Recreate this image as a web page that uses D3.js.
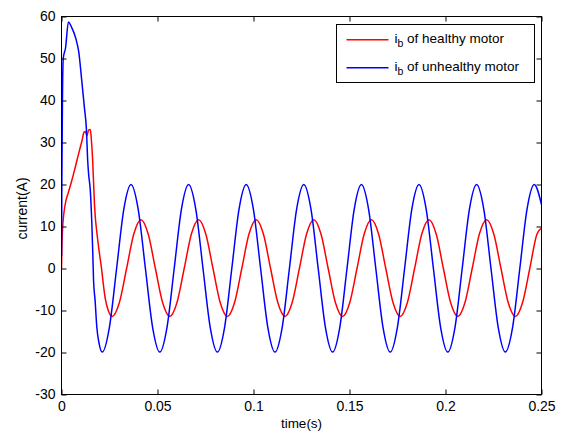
<!DOCTYPE html>
<html>
<head>
<meta charset="utf-8">
<script src="https://cdn.jsdelivr.net/npm/d3@7"></script>
<style>
  body { margin: 0; background: #fff; }
  svg { display: block; font-family: "Liberation Sans", Arial, Helvetica, sans-serif; }
  .tick text { fill: #000; font-size: 14px; }
  .tick line { stroke: #000; }
</style>
</head>
<body>
<div id="chart"></div>
<script>
var svgWidth = 566;
var svgHeight = 435;

// axes box
var margin = { top: 16, right: 25, bottom: 41, left: 61 };
var width = svgWidth - margin.left - margin.right;
var height = svgHeight - margin.top - margin.bottom;

// tick values
var xTicks = [0, 0.05, 0.1, 0.15, 0.2, 0.25];
var yTicks = [-30, -20, -10, 0, 10, 20, 30, 40, 50, 60];

var seriesNames = ["of healthy motor", "of unhealthy motor"];
var seriesColors = ["#ff0000", "#0000ff"];

// i_b of healthy motor, [time (s), current (A)]
var healthyPts = [
  [0, 0], [0.0002, 5], [0.0005, 9], [0.0012, 13], [0.0025, 16.5], [0.0035, 18],
  [0.0054, 21], [0.0071, 24], [0.0089, 27.3], [0.0106, 30.3], [0.0118, 32.5],
  [0.0125, 32.6], [0.0132, 31.6], [0.0142, 33], [0.015, 33.1], [0.0155, 31],
  [0.0162, 26], [0.0172, 15], [0.0189, 6.7], [0.0207, 0.5], [0.0228, -7.2],
  [0.0245, -10.2], [0.0264, -11.4],
  [0.03015, -8.1], [0.0339, 0], [0.03765, 8.2], [0.0414, 11.6], [0.04515, 8.2], [0.0489, 0], [0.05265, -8.1], [0.0564, -11.4],
  [0.06015, -8.1], [0.0639, 0], [0.06765, 8.2], [0.0714, 11.6], [0.07515, 8.2], [0.0789, 0], [0.08265, -8.1], [0.0864, -11.4],
  [0.09015, -8.1], [0.0939, 0], [0.09765, 8.2], [0.1014, 11.6], [0.10515, 8.2], [0.1089, 0], [0.11265, -8.1], [0.1164, -11.4],
  [0.12015, -8.1], [0.1239, 0], [0.12765, 8.2], [0.1314, 11.6], [0.13515, 8.2], [0.1389, 0], [0.14265, -8.1], [0.1464, -11.4],
  [0.15015, -8.1], [0.1539, 0], [0.15765, 8.2], [0.1614, 11.6], [0.16515, 8.2], [0.1689, 0], [0.17265, -8.1], [0.1764, -11.4],
  [0.18015, -8.1], [0.1839, 0], [0.18765, 8.2], [0.1914, 11.6], [0.19515, 8.2], [0.1989, 0], [0.20265, -8.1], [0.2064, -11.4],
  [0.21015, -8.1], [0.2139, 0], [0.21765, 8.2], [0.2214, 11.6], [0.22515, 8.2], [0.2289, 0], [0.23265, -8.1], [0.2364, -11.4],
  [0.24015, -8.1], [0.2439, 0], [0.24765, 8.2], [0.25, 9.6]
];

// i_b of unhealthy motor, [time (s), current (A)]
var unhealthyPts = [
  [0, 3], [0.0002, 22], [0.0005, 40.5], [0.0009, 50], [0.0021, 52.5], [0.0036, 58.7],
  [0.0054, 57.3], [0.0073, 55], [0.009, 51.5], [0.0106, 44.5], [0.012, 38],
  [0.013, 33], [0.0136, 26], [0.0141, 22.6], [0.015, 18.6], [0.0158, 10.7],
  [0.0163, 3.5], [0.0167, -2.9], [0.0175, -7.6], [0.0184, -14], [0.0196, -17.9],
  [0.0212, -19.9],
  [0.02495, -14], [0.0287, 0], [0.03245, 14.1], [0.0362, 20], [0.03995, 14.1], [0.0437, 0], [0.04745, -14], [0.0512, -19.9],
  [0.05495, -14], [0.0587, 0], [0.06245, 14.1], [0.0662, 20], [0.06995, 14.1], [0.0737, 0], [0.07745, -14], [0.0812, -19.9],
  [0.08495, -14], [0.0887, 0], [0.09245, 14.1], [0.0962, 20], [0.09995, 14.1], [0.1037, 0], [0.10745, -14], [0.1112, -19.9],
  [0.11495, -14], [0.1187, 0], [0.12245, 14.1], [0.1262, 20], [0.12995, 14.1], [0.1337, 0], [0.13745, -14], [0.1412, -19.9],
  [0.14495, -14], [0.1487, 0], [0.15245, 14.1], [0.1562, 20], [0.15995, 14.1], [0.1637, 0], [0.16745, -14], [0.1712, -19.9],
  [0.17495, -14], [0.1787, 0], [0.18245, 14.1], [0.1862, 20], [0.18995, 14.1], [0.1937, 0], [0.19745, -14], [0.2012, -19.9],
  [0.20495, -14], [0.2087, 0], [0.21245, 14.1], [0.2162, 20], [0.21995, 14.1], [0.2237, 0], [0.22745, -14], [0.2312, -19.9],
  [0.23495, -14], [0.2387, 0], [0.24245, 14.1], [0.2462, 20], [0.25, 15.2]
];

var svg = d3.select("#chart")
  .append("svg")
  .attr("width", svgWidth)
  .attr("height", svgHeight);

var chartGroup = svg.append("g")
  .attr("transform", `translate(${margin.left + 0.5}, ${margin.top + 0.5})`);

var xScale = d3.scaleLinear().domain([0, 0.25]).range([0, width]);
var yScale = d3.scaleLinear().domain([-30, 60]).range([height, 0]);

// clip the curves to the axes box
chartGroup.append("clipPath")
  .attr("id", "plotclip")
  .append("rect")
  .attr("width", width)
  .attr("height", height);

// lines
var line = d3.line()
  .x(d => xScale(d[0]))
  .y(d => yScale(d[1]))
  .curve(d3.curveMonotoneX);

[healthyPts, unhealthyPts].forEach(function(pts, i) {
  chartGroup.append("path")
    .datum(pts)
    .attr("clip-path", "url(#plotclip)")
    .attr("fill", "none")
    .attr("stroke", seriesColors[i])
    .attr("stroke-width", 1.5)
    .attr("d", line);
});

// axes, ticks pointing inward like matlab
var fmt = d => String(d);

chartGroup.append("g")
  .attr("transform", `translate(0, ${height})`)
  .call(d3.axisBottom(xScale).tickValues(xTicks).tickSizeInner(-5).tickSizeOuter(0).tickPadding(7).tickFormat(fmt))
  .call(g => g.select(".domain").remove());

chartGroup.append("g")
  .call(d3.axisTop(xScale).tickValues(xTicks).tickSizeInner(-5).tickSizeOuter(0).tickFormat(""))
  .call(g => g.select(".domain").remove());

chartGroup.append("g")
  .call(d3.axisLeft(yScale).tickValues(yTicks).tickSizeInner(-5).tickSizeOuter(0).tickPadding(6).tickFormat(fmt))
  .call(g => g.select(".domain").remove());

chartGroup.append("g")
  .attr("transform", `translate(${width}, 0)`)
  .call(d3.axisRight(yScale).tickValues(yTicks).tickSizeInner(-5).tickSizeOuter(0).tickFormat(""))
  .call(g => g.select(".domain").remove());

chartGroup.append("rect")
  .attr("width", width)
  .attr("height", height)
  .attr("fill", "none")
  .attr("stroke", "#000")
  .attr("stroke-width", 1);

// axis labels
chartGroup.append("text")
  .attr("x", width / 2)
  .attr("y", height + 33)
  .attr("text-anchor", "middle")
  .style("font-size", "13.5px")
  .text("time(s)");

chartGroup.append("text")
  .attr("transform", "rotate(-90)")
  .attr("x", -height / 2 - 3)
  .attr("y", -35)
  .attr("text-anchor", "middle")
  .style("font-size", "14px")
  .text("current(A)");

// legend
var legend = chartGroup.append("g")
  .attr("transform", `translate(${336 - margin.left}, ${24 - margin.top})`);

legend.append("rect")
  .attr("width", 198)
  .attr("height", 58)
  .attr("fill", "#fff")
  .attr("stroke", "#000");

seriesNames.forEach(function(name, i) {
  var yy = 15.25 + i * 28;
  legend.append("path")
    .attr("d", `M10,${yy}H52`)
    .style("stroke", seriesColors[i])
    .style("stroke-width", "1.6px")
    .style("fill", "none");
  var t = legend.append("text")
    .attr("x", 58)
    .attr("y", 18 + i * 28)
    .style("font-size", "13.5px");
  t.append("tspan").text("i");
  t.append("tspan").attr("dy", 4).style("font-size", "10.5px").text("b");
  t.append("tspan").attr("dy", -4).text(" " + name);
});
</script>
</body>
</html>
